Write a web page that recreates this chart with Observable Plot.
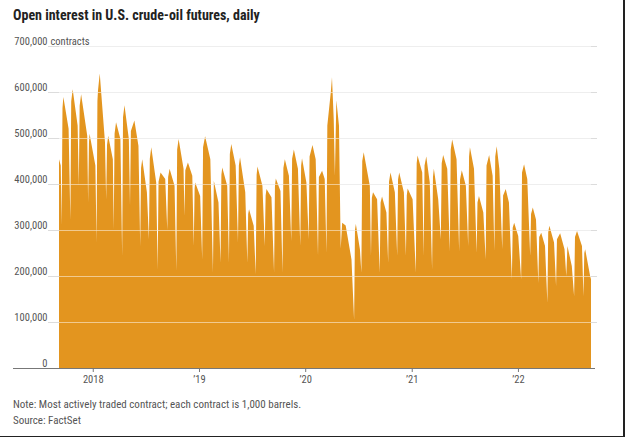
<!DOCTYPE html>
<html><head><meta charset="utf-8">
<script src="https://cdn.jsdelivr.net/npm/d3@7"></script>
<script src="https://cdn.jsdelivr.net/npm/@observablehq/plot@0.6"></script>
<style>
body{margin:0;background:#fff;}
#wrap{position:relative;width:625px;height:437px;overflow:hidden;font-family:"Liberation Sans Narrow","Roboto Condensed","Roboto",sans-serif;}
#title{position:absolute;left:13px;top:7px;font-weight:bold;font-size:14px;color:#222;white-space:nowrap;}
#chart{position:absolute;left:0;top:26px;}
#note{position:absolute;left:13px;top:397px;font-size:11px;color:#555;line-height:16px;white-space:nowrap;}
#br{position:absolute;right:0;top:0;width:2px;height:437px;background:#222;}
#bb{position:absolute;left:0;bottom:0;width:625px;height:1px;background:#222;}
</style></head>
<body>
<div id="wrap">
  <div id="title">Open interest in U.S. crude-oil futures, daily</div>
  <div id="chart"></div>
  <div id="note">Note: Most actively traded contract; each contract is 1,000 barrels.<br>Source: FactSet</div>
  <div id="br"></div><div id="bb"></div>
</div>
<script>
// Open interest (thousands of contracts), key points:
// roll-over troughs, peaks and pre-roll levels
const dates = [
"2017-09-07","2017-09-13","2017-09-16","2017-09-22","2017-10-10","2017-10-16","2017-10-24","2017-11-10","2017-11-14","2017-11-22",
"2017-12-13","2017-12-16","2017-12-21","2018-01-10","2018-01-14","2018-01-19","2018-01-25","2018-02-12","2018-02-16","2018-02-23",
"2018-03-11","2018-03-14","2018-03-22","2018-04-06","2018-04-12","2018-04-20","2018-05-05","2018-05-09","2018-05-24","2018-06-07",
"2018-06-13","2018-06-20","2018-07-06","2018-07-13","2018-07-21","2018-08-07","2018-08-12","2018-08-22","2018-09-07","2018-09-14",
"2018-09-22","2018-10-09","2018-10-15","2018-10-23","2018-11-09","2018-11-12","2018-11-24","2018-12-09","2018-12-14","2018-12-19",
"2019-01-05","2019-01-12","2019-01-22","2019-02-09","2019-02-18","2019-02-21","2019-03-09","2019-03-16","2019-03-22","2019-04-08",
"2019-04-14","2019-04-22","2019-05-07","2019-05-15","2019-05-22","2019-06-09","2019-06-16","2019-06-22","2019-07-08","2019-07-15",
"2019-07-21","2019-08-07","2019-08-15","2019-08-21","2019-09-07","2019-09-16","2019-09-22","2019-10-08","2019-10-15","2019-10-23",
"2019-11-06","2019-11-14","2019-11-23","2019-12-07","2019-12-15","2019-12-21","2020-01-05","2020-01-13","2020-01-26","2020-02-06",
"2020-02-14","2020-02-17","2020-02-28","2020-03-08","2020-03-14","2020-03-17","2020-03-29","2020-04-02","2020-04-08","2020-04-12",
"2020-04-17","2020-04-26","2020-05-02","2020-05-07","2020-05-19","2020-06-08","2020-06-17","2020-06-23","2020-07-07","2020-07-12",
"2020-07-20","2020-08-10","2020-08-14","2020-08-21","2020-09-04","2020-09-13","2020-09-21","2020-10-06","2020-10-12","2020-10-20",
"2020-11-04","2020-11-12","2020-11-19","2020-12-05","2020-12-12","2020-12-18","2021-01-04","2021-01-15","2021-01-21","2021-02-06",
"2021-02-11","2021-02-20","2021-03-04","2021-03-12","2021-03-18","2021-04-02","2021-04-11","2021-04-19","2021-05-03","2021-05-12",
"2021-05-20","2021-06-04","2021-06-13","2021-06-22","2021-07-06","2021-07-14","2021-07-20","2021-08-03","2021-08-12","2021-08-20",
"2021-09-04","2021-09-12","2021-09-24","2021-10-06","2021-10-12","2021-10-20","2021-10-29","2021-11-08","2021-11-20","2021-12-01",
"2021-12-11","2021-12-19","2022-01-02","2022-01-12","2022-01-22","2022-02-02","2022-02-12","2022-02-21","2022-03-04","2022-03-12",
"2022-03-22","2022-04-04","2022-04-12","2022-04-19","2022-05-05","2022-05-12","2022-05-26","2022-06-10","2022-06-16","2022-06-20",
"2022-07-05","2022-07-13","2022-07-23","2022-08-09","2022-08-14","2022-08-20","2022-09-06","2022-09-09"
];
const openInterest = [
454,440,310,589,520,323,606,527,396,595,
505,360,509,440,273,603,640,491,367,505,
454,302,534,498,244,571,498,353,538,483,
265,454,382,280,480,403,214,425,411,300,
433,396,211,498,433,331,447,418,265,403,
374,236,504,454,207,407,360,229,436,396,
229,487,440,273,458,382,229,345,309,204,
438,396,265,389,371,207,412,385,207,454,
418,276,475,433,265,456,403,280,485,454,
244,415,429,411,251,527,600,632,540,418,
582,527,260,316,310,236,105,313,258,207,
469,396,244,382,367,207,373,338,229,425,
382,244,425,382,244,390,367,207,462,425,
244,460,403,214,433,367,280,463,433,254,
497,454,254,430,396,265,480,433,251,374,
338,236,463,418,254,482,433,258,389,360,
193,316,287,193,443,411,244,349,323,185,
294,265,142,309,273,178,293,258,200,265,
222,156,298,265,156,258,200,193
];
// Levels reached just after each roll-over (steep rise of each tooth)
const riseDates = [
"2017-09-19","2017-10-19","2017-11-17","2017-12-19","2018-01-17","2018-02-19","2018-03-17","2018-04-15","2018-05-12","2018-06-16",
"2018-07-16","2018-08-15","2018-09-17","2018-10-18","2018-11-15","2018-12-17","2019-01-15","2019-03-19","2019-04-17","2019-05-18",
"2019-06-19","2019-07-18","2019-08-18","2019-09-19","2019-10-18","2019-11-17","2019-12-18","2020-01-16","2020-06-20","2020-07-15",
"2020-08-17","2020-09-16","2020-10-15","2020-11-15","2020-12-15","2021-01-18","2021-02-14","2021-03-15","2021-04-14","2021-05-15",
"2021-06-16","2021-07-17","2021-08-15","2021-09-15","2021-10-15","2021-11-11","2021-12-14","2022-01-15","2022-02-15","2022-03-15",
"2022-04-15","2022-05-15","2022-07-16","2022-08-17"
];
const riseValues = [
565,580,570,490,580,485,510,545,515,435,
455,405,415,475,430,390,480,420,465,440,
335,420,375,395,435,455,440,460,300,450,
370,360,405,410,375,445,440,415,445,475,
410,460,360,440,460,375,305,425,335,285,
295,280,285,250
];
const yTicks = [0, 100, 200, 300, 400, 500, 600, 700];
const xTickYears = [2018, 2019, 2020, 2021, 2022];
const xTickLabels = ["2018", "\u201919", "\u201920", "\u201921", "\u201922"];

const parse = d => new Date(d + "T00:00:00Z");
const data = dates.map((d, i) => ({date: parse(d), value: openInterest[i]}))
  .concat(riseDates.map((d, i) => ({date: parse(d), value: riseValues[i]})))
  .sort((a, b) => a.date - b.date);
const labelByYear = new Map(xTickYears.map((y, i) => [y, xTickLabels[i]]));
const fmt = d3.format(",");
const fontFam = '"Liberation Sans Narrow","Roboto Condensed","Roboto",sans-serif';

const chart = Plot.plot({
  width: 625, height: 366,
  marginTop: 20, marginBottom: 24, marginLeft: 59, marginRight: 34,
  style: {fontFamily: fontFam, fontSize: "10.5px", color: "#555", background: "transparent", overflow: "visible"},
  x: {type: "utc", domain: [data[0].date, data[data.length - 1].date]},
  y: {domain: [0, 700]},
  marks: [
    Plot.ruleY(yTicks.filter(d => d > 0), {stroke: "#dcdcdc", insetLeft: -11, insetRight: -6}),
    Plot.areaY(data, {x: "date", y: "value", fill: "#e3951f"}),
    Plot.ruleY(yTicks.filter(d => d > 0), {stroke: "#fff", strokeOpacity: 0.5}),
    Plot.ruleY([0], {stroke: "#777", insetLeft: -46, insetRight: -4}),
    Plot.axisX({ticks: xTickYears.map(y => new Date(Date.UTC(y, 0, 1))), tickFormat: d => labelByYear.get(d.getUTCFullYear()), tickSize: 4, tickPadding: 3, stroke: "#777", fill: "#555", label: null}),
    Plot.axisY({ticks: yTicks, tickFormat: d => fmt(d * 1000), tickSize: 0, tickPadding: 12, dy: -5, fill: "#555", label: null}),
    Plot.text(["contracts"], {frameAnchor: "left", y: () => 700, text: d => d, textAnchor: "start", dx: -9, dy: -5, fill: "#555"})
  ]
});
document.getElementById("chart").appendChild(chart);
</script>
</body></html>
